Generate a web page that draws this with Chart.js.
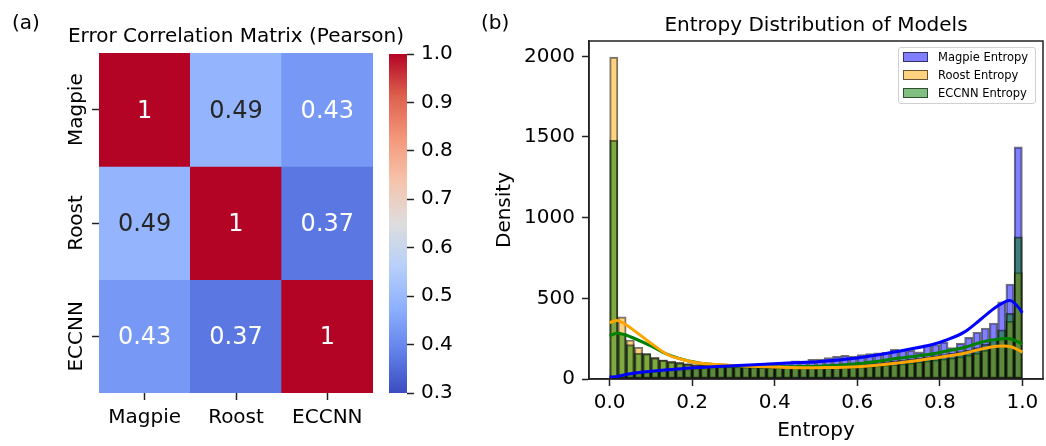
<!DOCTYPE html>
<html>
<head>
<meta charset="utf-8">
<script src="https://cdn.jsdelivr.net/npm/chart.js@4.4.1/dist/chart.umd.min.js"></script>
<style>
  body { margin: 0; background: #fff; }
  #wrap { position: relative; width: 1046px; height: 446px; font-family: 'DejaVu Sans', sans-serif; color: #000; }
  canvas { position: absolute; top: 0; }
  .panel { position: absolute; font-size: 20px; line-height: 20px; white-space: nowrap; }
  .title { width: 400px; text-align: center; }
  #legend { position: absolute; left: 898px; top: 47px; width: 136px; height: 55px; border: 1px solid #d0d0d0; border-radius: 3px; background: rgba(255,255,255,0.8); }
  .row { position: absolute; left: 4px; height: 14px; display: flex; align-items: center; font-size: 11.5px; white-space: nowrap; }
  .sw { width: 23px; height: 8px; margin-right: 10px; border: 1px solid rgba(0,0,0,0.6); }
</style>
</head>
<body>
<div id="wrap">
  <canvas id="heat" width="380" height="446" style="left:0"></canvas>
  <canvas id="cbar" width="100" height="446" style="left:380px"></canvas>
  <canvas id="hist" width="566" height="446" style="left:480px"></canvas>
  <div class="panel" style="left:12px;top:12px">(a)</div>
  <div class="panel" style="left:481px;top:12px">(b)</div>
  <div class="panel title" style="left:36px;top:25px">Error Correlation Matrix (Pearson)</div>
  <div class="panel title" style="left:616px;top:14px">Entropy Distribution of Models</div>
  <div id="legend"></div>
</div>
<script>
// panel (a): correlation matrix
const models = ['Magpie', 'Roost', 'ECCNN'];
const corrMagpie = [1, 0.49, 0.43];
const corrRoost = [0.49, 1, 0.37];
const corrEccnn = [0.43, 0.37, 1];
const cbarMin = 0.3;
const cbarMax = 1.0;
const cbarTicks = [0.3, 0.4, 0.5, 0.6, 0.7, 0.8, 0.9, 1.0];

// panel (b): entropy histograms, 50 bins over [0, 1]
const binWidth = 0.02;
const magpieCounts = [20, 28, 34, 40, 44, 48, 52, 56, 60, 63, 66, 68, 70, 74, 76, 80, 84, 88, 96, 100,
  102, 104, 112, 108, 122, 124, 132, 140, 146, 142, 152, 158, 162, 166, 184, 180, 178, 168, 212, 214,
  230, 195, 222, 258, 290, 316, 347, 479, 589, 1439];
const roostCounts = [1995, 385, 242, 197, 157, 135, 119, 110, 104, 95, 90, 87, 85, 84, 82, 80, 78, 76, 74, 72,
  71, 70, 69, 68, 68, 68, 69, 70, 71, 73, 75, 78, 82, 86, 90, 95, 100, 106, 112, 118,
  124, 130, 138, 148, 160, 178, 200, 250, 357, 660];
const eccnnCounts = [1480, 282, 213, 160, 158, 130, 116, 106, 100, 92, 87, 84, 82, 80, 79, 78, 77, 76, 75, 74,
  74, 74, 74, 75, 76, 77, 79, 81, 84, 88, 92, 96, 101, 106, 112, 118, 124, 130, 137, 145,
  152, 160, 170, 180, 195, 215, 248, 305, 407, 881];

// kde curves
const kdeX = [0, 0.02, 0.05, 0.1, 0.14, 0.18, 0.22, 0.3, 0.4, 0.46, 0.5, 0.6, 0.7, 0.78, 0.82, 0.86, 0.9, 0.94, 0.97, 0.99, 1.0];
const magpieKde = [12, 16, 33, 48, 58, 65, 72, 82, 95, 102, 106, 130, 172, 212, 245, 292, 372, 452, 487, 445, 410];
const roostKde = [350, 362, 318, 222, 152, 118, 98, 84, 74, 70, 70, 76, 100, 127, 143, 160, 185, 203, 202, 180, 166];
const eccnnKde = [268, 283, 262, 205, 152, 119, 98, 82, 76, 77, 79, 95, 128, 155, 175, 195, 228, 247, 249, 230, 218];

const xTicks = [0, 0.2, 0.4, 0.6, 0.8, 1.0];
const yTicks = [0, 500, 1000, 1500, 2000];

Chart.defaults.font.family = "'DejaVu Sans', sans-serif";
Chart.defaults.color = '#000';

const font20 = { family: "'DejaVu Sans', sans-serif", size: 20 };
const tickGrid = { display: true, drawOnChartArea: false, drawTicks: true, tickLength: 7, tickColor: '#222', tickWidth: 1.5, offset: false };

// coolwarm colour map
const coolwarmStops = ['#3b4cc0', '#6282ea', '#8db0fe', '#b8d0f9', '#dddddd', '#f5c4ac', '#f4987a', '#de614d', '#b40426'];

function hexRgb(h) {
    return [1, 3, 5].map((i) => parseInt(h.slice(i, i + 2), 16));
}

function coolwarm(t) {
    t = Math.max(0, Math.min(1, t));
    const pos = t * (coolwarmStops.length - 1);
    const i = Math.min(Math.floor(pos), coolwarmStops.length - 2);
    const f = pos - i;
    const a = hexRgb(coolwarmStops[i]);
    const b = hexRgb(coolwarmStops[i + 1]);
    const c = a.map((v, k) => Math.round(v + (b[k] - v) * f));
    return `rgb(${c[0]}, ${c[1]}, ${c[2]})`;
}

function luminance(rgbStr) {
    const c = rgbStr.match(/\d+/g).map((v) => {
        v = v / 255;
        return v <= 0.03928 ? v / 12.92 : Math.pow((v + 0.055) / 1.055, 2.4);
    });
    return 0.2126 * c[0] + 0.7152 * c[1] + 0.0722 * c[2];
}

const corrRows = [corrMagpie, corrRoost, corrEccnn];

const cellLabels = {
    id: 'cellLabels',
    afterDatasetsDraw(chart) {
        const ctx = chart.ctx;
        ctx.save();
        ctx.font = "24px 'DejaVu Sans'";
        ctx.textAlign = 'center';
        ctx.textBaseline = 'alphabetic';
        corrRows.forEach((row, i) => {
            chart.getDatasetMeta(i).data.forEach((bar, j) => {
                const col = coolwarm((row[j] - cbarMin) / (cbarMax - cbarMin));
                ctx.fillStyle = luminance(col) > 0.408 ? '#262626' : '#fff';
                ctx.fillText(String(row[j]), bar.x, (bar.y + bar.base) / 2 + 8);
            });
        });
        // row names, rotated like the reference
        ctx.font = "20px 'DejaVu Sans'";
        ctx.fillStyle = '#000';
        const y = chart.scales.y;
        models.forEach((name, i) => {
            ctx.save();
            ctx.translate(81.5, y.getPixelForValue(models.length - i - 0.5));
            ctx.rotate(-Math.PI / 2);
            ctx.fillText(name, 0, 0);
            ctx.restore();
        });
        ctx.restore();
    },
};

new Chart(document.getElementById('heat'), {
    type: 'bar',
    data: {
        labels: models,
        datasets: corrRows.map((row, i) => ({
            label: models[i],
            data: models.map(() => [models.length - i - 1, models.length - i]),
            backgroundColor: row.map((v) => coolwarm((v - cbarMin) / (cbarMax - cbarMin))),
            borderWidth: 0,
            barPercentage: 1,
            categoryPercentage: 1,
            grouped: false,
        })),
    },
    options: {
        responsive: false,
        animation: false,
        devicePixelRatio: 1,
        layout: { padding: { left: 0, right: 7, top: 53, bottom: 0 } },
        plugins: {
            legend: { display: false },
            tooltip: { enabled: false },
        },
        scales: {
            x: {
                grid: tickGrid,
                border: { display: false },
                ticks: { font: font20, color: '#000', padding: 6, maxRotation: 0 },
                afterFit: (s) => { s.height = 53; },
            },
            y: {
                min: 0,
                max: 3,
                grid: tickGrid,
                border: { display: false },
                ticks: { display: false },
                afterBuildTicks: (s) => { s.ticks = [0.5, 1.5, 2.5].map((v) => ({ value: v })); },
                afterFit: (s) => { s.width = 99; },
            },
        },
    },
    plugins: [cellLabels],
});

// colour bar
new Chart(document.getElementById('cbar'), {
    type: 'bar',
    data: {
        labels: [''],
        datasets: [{
            data: [[cbarMin, cbarMax]],
            borderWidth: 0,
            barPercentage: 1,
            categoryPercentage: 1,
            backgroundColor: (c) => {
                const area = c.chart.chartArea;
                if (!area) return '#ccc';
                const g = c.chart.ctx.createLinearGradient(0, area.bottom, 0, area.top);
                coolwarmStops.forEach((col, i) => g.addColorStop(i / (coolwarmStops.length - 1), col));
                return g;
            },
        }],
    },
    options: {
        responsive: false,
        animation: false,
        devicePixelRatio: 1,
        layout: { padding: { left: 9, top: 54, bottom: 53, right: 0 } },
        plugins: { legend: { display: false }, tooltip: { enabled: false } },
        scales: {
            x: { display: false },
            y: {
                position: 'right',
                min: cbarMin,
                max: cbarMax,
                grid: tickGrid,
                border: { display: false },
                ticks: { font: font20, color: '#000', padding: 7, callback: (v) => v.toFixed(1) },
                afterBuildTicks: (s) => { s.ticks = cbarTicks.map((v) => ({ value: v })); },
                afterFit: (s) => { s.width = 73; },
            },
        },
    },
});

// panel (b)
const series = [
    { name: 'Magpie Entropy', counts: magpieCounts, kde: magpieKde, color: 'rgb(0, 0, 255)', fill: 'rgba(0, 0, 255, 0.5)' },
    { name: 'Roost Entropy', counts: roostCounts, kde: roostKde, color: 'rgb(255, 165, 0)', fill: 'rgba(255, 165, 0, 0.5)' },
    { name: 'ECCNN Entropy', counts: eccnnCounts, kde: eccnnKde, color: 'rgb(0, 128, 0)', fill: 'rgba(0, 128, 0, 0.5)' },
];

const frame = {
    id: 'frame',
    afterDatasetsDraw(chart) {
        const { ctx, chartArea: a } = chart;
        ctx.save();
        ctx.strokeStyle = '#222';
        ctx.lineWidth = 1.5;
        ctx.strokeRect(a.left, a.top, a.right - a.left, a.bottom - a.top);
        ctx.restore();
    },
};

const barSets = series.map((s, i) => ({
    type: 'bar',
    label: s.name,
    data: s.counts.map((v, k) => ({ x: (k + 0.5) * binWidth, y: v })),
    backgroundColor: s.fill,
    borderColor: 'rgba(0, 0, 0, 0.55)',
    borderWidth: 1.5,
    borderSkipped: false,
    barPercentage: 1,
    categoryPercentage: 1,
    grouped: false,
    order: 3 - i,
}));

const lineSets = series.map((s) => ({
    type: 'line',
    label: s.name + ' kde',
    data: kdeX.map((x, k) => ({ x: x, y: s.kde[k] })),
    borderColor: s.color,
    borderWidth: 3,
    pointRadius: 0,
    fill: false,
    tension: 0.35,
    order: 0,
}));

new Chart(document.getElementById('hist'), {
    type: 'bar',
    data: { datasets: [...barSets, ...lineSets] },
    options: {
        responsive: false,
        animation: false,
        devicePixelRatio: 1,
        layout: { padding: { left: 0, right: 3, top: 41, bottom: 0 } },
        plugins: {
            legend: { display: false },
            tooltip: { enabled: false },
        },
        scales: {
            x: {
                type: 'linear',
                min: -0.05,
                max: 1.05,
                offset: false,
                grid: tickGrid,
                border: { display: true, color: '#222', width: 1.5 },
                ticks: { font: font20, color: '#000', padding: 5, callback: (v) => v.toFixed(1) },
                title: { display: true, text: 'Entropy', font: font20, color: '#000', padding: { top: 0, bottom: 3 } },
                afterBuildTicks: (s) => { s.ticks = xTicks.map((v) => ({ value: v })); },
                afterFit: (s) => { s.height = 67; },
            },
            y: {
                min: 0,
                max: 2095,
                grid: tickGrid,
                border: { display: true, color: '#222', width: 1.5 },
                ticks: { font: font20, color: '#000', padding: 7, callback: (v) => String(v) },
                title: { display: true, text: 'Density', font: font20, color: '#000', padding: { top: 13, bottom: 0 } },
                afterBuildTicks: (s) => { s.ticks = yTicks.map((v) => ({ value: v })); },
                afterFit: (s) => { s.width = 109; },
            },
        },
    },
    plugins: [frame],
});

// legend
const legend = document.getElementById('legend');
series.forEach((s, i) => {
    const row = document.createElement('div');
    row.className = 'row';
    row.style.top = (2 + 18 * i) + 'px';
    row.innerHTML = `<span class="sw" style="background:${s.fill}"></span><span>${s.name}</span>`;
    legend.appendChild(row);
});
</script>
</body>
</html>
